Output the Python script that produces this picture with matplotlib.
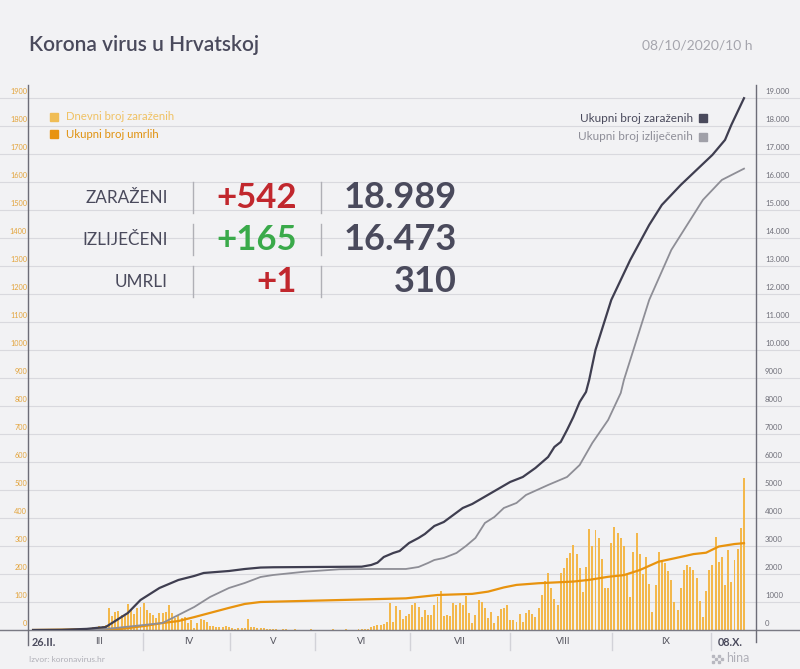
import matplotlib
matplotlib.use("Agg")
import matplotlib.pyplot as plt
import matplotlib.transforms as mtransforms
from matplotlib.lines import Line2D
from matplotlib.patches import Rectangle
import numpy as np

plt.rcParams['font.family'] = ['Lato', 'DejaVu Sans']

# daily new cases, one per day from 26.II. to 08.X. (left axis)
daily_cases = [
    1, 0, 0, 0, 1, 0, 1, 0, 0, 2, 1, 2, 2, 3, 4, 6, 5, 6, 8, 10, 12, 14, 16, 18,
    77, 50, 66, 67, 55, 50, 93, 72, 57, 77, 83, 98, 71, 60, 54, 42, 60, 62, 65, 88,
    60, 42, 54, 42, 48, 24, 36, 8, 24, 38, 36, 30, 14, 14, 10, 12, 12, 14, 10, 6,
    5, 8, 6, 8, 38, 10, 10, 8, 7, 6, 4,
    3, 2, 4, 1, 2, 3, 1, 0, 2, 1, 1, 0, 1, 2, 0, 0, 1, 0, 1, 0, 2, 1, 0, 1, 2, 0,
    1, 0, 3, 2, 4,
    5, 10, 14, 17, 18, 20, 30, 98, 28, 84, 72, 38, 50, 58, 90, 98, 82, 48, 70, 54,
    52, 88, 118, 140, 50, 52, 50, 96, 90, 95, 88, 120, 60, 24, 52, 108, 100, 78, 44,
    65, 24, 50, 75, 78, 88, 36, 36,
    30, 57, 30, 60, 70, 58, 45, 80, 125, 175, 205, 150, 110, 88, 205, 220, 258, 275,
    305, 270, 220, 135, 225, 360, 300, 358, 330, 255, 150, 150, 312, 368, 345, 330,
    300, 200, 118, 280, 345, 270, 200, 262, 165, 65, 160, 280, 248, 238, 212, 180,
    100, 72, 150, 215, 232, 226, 215, 185, 105, 48, 140, 214, 232, 333, 244, 260,
    161, 286, 170, 250, 290, 364, 542,
]

# running totals (day 0 = 26.II.)
cases_day = [0, 9, 17, 23, 30, 34, 40, 46, 51, 54, 62, 67, 72, 76, 104, 107, 109, 111,
             114, 116, 119, 122, 124, 127, 130, 133, 136, 139, 145, 151, 155, 159, 163,
             165, 167, 169, 171, 173, 175, 176, 178, 183, 189, 195, 199, 205, 210, 215,
             219, 221, 225]
cases_total = [1, 7, 40, 107, 607, 1071, 1500, 1786, 1929, 2036, 2107, 2178, 2230, 2240,
               2261, 2321, 2404, 2607, 2750, 2821, 3107, 3286, 3428, 3714, 3857, 4107,
               4357, 4500, 4893, 5286, 5464, 5786, 6178, 6536, 6714, 7143, 7607, 8143,
               8500, 8929, 10000, 11786, 13214, 14464, 15178, 15893, 16429, 16964, 17500,
               18036, 18989]

recovered_day = [0, 19, 26, 41, 46, 51, 56, 62, 67, 72, 76, 86, 97, 107, 118, 122, 125,
                 127, 130, 134, 137, 140, 143, 146, 149, 153, 156, 163, 169, 173, 177, 182,
                 186, 187, 190, 195, 202, 208, 212, 218, 225]
recovered_total = [0, 5, 71, 250, 536, 821, 1178, 1500, 1679, 1893, 1964, 2082, 2168,
                   2179, 2179, 2250, 2393, 2500, 2571, 2750, 3000, 3286, 3821, 4036, 4357,
                   4536, 4821, 5178, 5464, 5893, 6679, 7500, 8464, 8929, 10000, 11786,
                   13571, 14643, 15357, 16071, 16473]

deaths_day = [0, 28, 35, 41, 46, 51, 56, 62, 67, 72, 97, 118, 128, 139, 144, 149, 153,
              160, 171, 176, 182, 187, 192, 198, 203, 209, 213, 217, 222, 225]
deaths_total = [0, 4, 14, 25, 32, 46, 61, 79, 93, 100, 107, 113, 125, 129, 137, 152, 161,
                167, 173, 179, 190, 196, 214, 244, 256, 271, 276, 298, 307, 310]

left_ticks = list(range(0, 2000, 100))
right_ticks = list(range(0, 20000, 1000))

month_labels = ['III', 'IV', 'V', 'VI', 'VII', 'VIII', 'IX']
month_label_day = [20.9, 49.4, 75.9, 104.1, 135.1, 167.7, 200.3]
month_breaks = [34.8, 62.3, 89.2, 119.3, 151, 183.2, 214.6]

stat_names = ['ZARAŽENI', 'IZLIJEČENI', 'UMRLI']
stat_new = ['+542', '+165', '+1']
stat_total = ['18.989', '16.473', '310']
stat_colors = ['#c1272d', '#3aaa4a', '#c1272d']

W, H = 800, 669
DARK = '#4a4a5c'


def fx(px):
    return px / W


def fy(py):
    return 1 - py / H


fig = plt.figure(figsize=(8, 6.69), dpi=100, facecolor='#f2f2f4')
ax = fig.add_axes([fx(28), fy(630), fx(756) - fx(28), fy(85) - fy(630)])
ax.set_facecolor('none')
ax2 = ax.twinx()

days = np.arange(len(daily_cases))
ax.bar(days, daily_cases, width=0.62, color='#f3b84c', zorder=2)
ax.plot(deaths_day, deaths_total, color='#e8930e', lw=1.6, zorder=3)
ax2.plot(recovered_day, recovered_total, color='#8e8e96', lw=1.3)
ax2.plot(cases_day, cases_total, color='#3f3e50', lw=1.6)

# grid lines run across the whole picture
grid_tr = mtransforms.blended_transform_factory(fig.transFigure, ax.transData)
for v in left_ticks:
    ax.plot([0, 1], [v, v], transform=grid_tr, color='#d9d9de', lw=0.8, zorder=0,
            clip_on=False)
ax.plot([0, 1], [0, 0], transform=grid_tr, color='#7a7a84', lw=1, zorder=4, clip_on=False)

ax.set_xlim(-1.6, 228.8)
ax.set_ylim(0, 1946)
ax2.set_ylim(0, 19460)
for a in (ax, ax2):
    a.set_xticks([])
    a.set_yticks([])
    for s in a.spines.values():
        s.set_visible(False)

# tick labels sit a little above their grid line
lift = mtransforms.ScaledTranslation(0, 6.5 / 100, fig.dpi_scale_trans)
left_tr = mtransforms.blended_transform_factory(fig.transFigure, ax.transData) + lift
right_tr = mtransforms.blended_transform_factory(fig.transFigure, ax2.transData) + lift
for v in left_ticks:
    ax.text(fx(27), v, str(v), transform=left_tr, ha='right', va='center',
            fontsize=5.3, color='#e3a43c')
for v in right_ticks:
    lab = f"{v // 1000}.000" if v >= 10000 else str(v)
    ax2.text(fx(765), v, lab, transform=right_tr, ha='left', va='center',
             fontsize=5.6, color='#6e6e78')

fig.add_artist(Line2D([fx(28)] * 2, [fy(85), fy(645)], color='#6d6d78', lw=1))
fig.add_artist(Line2D([fx(756)] * 2, [fy(85), fy(642)], color='#6d6d78', lw=1))

# month strip under the plot
sep_tr = mtransforms.blended_transform_factory(ax.transData, fig.transFigure)
for d in month_breaks:
    ax.plot([d, d], [fy(633), fy(650)], transform=sep_tr, color='#d2d2d8', lw=1,
            clip_on=False)
for d, lab in zip(month_label_day, month_labels):
    ax.text(d, fy(642), lab, transform=sep_tr, ha='center', va='center',
            fontsize=7, color='#55555f')
ax.text(-0.3, fy(642), '26.II.', transform=sep_tr, ha='left', va='center',
        fontsize=7.8, fontweight='bold', color=DARK)
ax.text(220.6, fy(642), '08.X.', transform=sep_tr, ha='center', va='center',
        fontsize=7.8, fontweight='bold', color=DARK)

# header
fig.text(fx(29), fy(45), 'Korona virus u Hrvatskoj', fontsize=15, fontweight='semibold',
         color=DARK, ha='left', va='center')
fig.text(fx(752), fy(45), '08/10/2020/10 h', fontsize=10, color='#a5a5ad',
         ha='right', va='center')

# legends
legend_left = [('Dnevni broj zaraženih', '#f0bd55', '#f0c264', 117),
               ('Ukupni broj umrlih', '#e8930e', '#e0920f', 134)]
for text, sq, col, py in legend_left:
    fig.add_artist(Rectangle((fx(50), fy(py + 4)), 8 / W, 8 / H, transform=fig.transFigure,
                             color=sq))
    fig.text(fx(66), fy(py), text, fontsize=8.2, color=col, ha='left', va='center')

legend_right = [('Ukupni broj zaraženih', DARK, DARK, 118),
                ('Ukupni broj izliječenih', '#a0a0a8', '#8e8e98', 137)]
for text, sq, col, py in legend_right:
    fig.add_artist(Rectangle((fx(699), fy(py + 4)), 8 / W, 8 / H, transform=fig.transFigure,
                             color=sq))
    fig.text(fx(693), fy(py), text, fontsize=8.5, color=col, ha='right', va='center')

# stats block
rows_y = [198, 240, 282]
for name, new, tot, col, py in zip(stat_names, stat_new, stat_total, stat_colors, rows_y):
    fig.text(fx(168), fy(py), name, fontsize=12.3, color=DARK, ha='right', va='center')
    fig.text(fx(297), fy(py), new, fontsize=25, fontweight='bold', color=col,
             ha='right', va='center')
    fig.text(fx(457), fy(py), tot, fontsize=26, fontweight='bold', color=DARK,
             ha='right', va='center')
    for sx in (193, 321):
        fig.add_artist(Line2D([fx(sx)] * 2, [fy(py - 16), fy(py + 15)], color='#b0b0b6',
                              lw=1))

# footer
fig.text(fx(29), fy(660), 'Izvor: koronavirus.hr', fontsize=6, color='#b0b0b8',
         ha='left', va='center')
for i in range(4):
    for j in range(3):
        if (i + j) % 2 == 0:
            fig.add_artist(Rectangle((fx(712 + i * 3), fy(663 - j * 3)), 2 / W, 2 / H,
                                     transform=fig.transFigure, color='#b8b8c0'))
fig.text(fx(726), fy(658), 'hina', fontsize=9, color='#b0b0b8', ha='left', va='center')

fig.savefig('out.png', dpi=100, facecolor=fig.get_facecolor())
